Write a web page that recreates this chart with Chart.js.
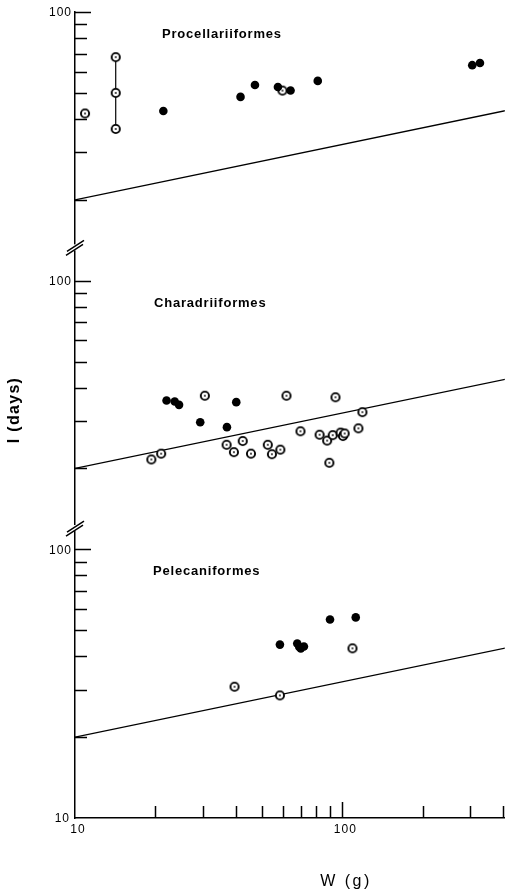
<!DOCTYPE html>
<html>
<head>
<meta charset="utf-8">
<script src="https://cdn.jsdelivr.net/npm/chart.js@4.4.1/dist/chart.umd.min.js"></script>
<style>
  html, body { margin: 0; padding: 0; background: #fff; }
  canvas { display: block; }
</style>
</head>
<body>
<canvas id="chart" width="511" height="893"></canvas>
<script>
// W (g) and I (days), one group per order
const procFilledW = [21.4, 41.6, 47.1, 57.4, 64.0, 80.9, 306, 327];
const procFilledI = [42.8, 48.3, 53.5, 52.6, 51.0, 55.4, 63.4, 64.6];
const procOpenW = [10.9, 59.7];
const procOpenI = [41.9, 51.0];
const procRangeW = [14.2, 14.2, 14.2];
const procRangeI = [67.9, 50.0, 36.7];

const charFilledW = [22.0, 23.6, 24.5, 29.4, 37.0, 40.1];
const charFilledI = [35.8, 35.5, 34.5, 29.7, 28.5, 35.3];
const charOpenW = [19.3, 21.0, 30.6, 36.9, 39.3, 42.4, 45.5, 52.6, 54.5, 58.6, 61.8, 69.7, 82.2, 87.7, 89.4, 92.0, 94.2, 98.5, 100.5, 102, 114.8, 118.8];
const charOpenI = [21.6, 22.7, 37.3, 24.5, 23.0, 25.3, 22.7, 24.5, 22.6, 23.5, 37.3, 27.5, 26.7, 25.4, 21.0, 26.6, 36.8, 27.2, 26.4, 27.0, 28.2, 32.4];

const peleFilledW = [58.4, 67.8, 69.0, 69.9, 71.8, 89.9, 112.2];
const peleFilledI = [44.2, 44.6, 43.3, 42.8, 43.5, 54.8, 55.8];
const peleOpenW = [39.5, 58.4, 109.1];
const peleOpenI = [30.8, 28.6, 42.8];

// reference line, same in each panel
const lineW = [10, 420];
const lineI = [20, 43.2];

const panelNames = ["Procellariiformes", "Charadriiformes", "Pelecaniformes"];
// each panel is one decade of a single log axis
const panelShift = [100, 10, 1];

const xTicks = [20, 30, 40, 50, 60, 70, 80, 90, 100, 200, 300, 400];

function pts(ws, is, shift) {
  return ws.map((w, i) => ({ x: w, y: is[i] * shift }));
}

function ring() {
  const c = document.createElement("canvas");
  c.width = c.height = 12;
  const g = c.getContext("2d");
  g.beginPath();
  g.arc(6, 6, 4.1, 0, 2 * Math.PI);
  g.fillStyle = "#fff";
  g.fill();
  g.lineWidth = 1.9;
  g.strokeStyle = "#000";
  g.stroke();
  g.beginPath();
  g.arc(6, 6, 0.9, 0, 2 * Math.PI);
  g.fillStyle = "#000";
  g.fill();
  return c;
}
const openMark = ring();

function filled(data) {
  return { data, pointStyle: "circle", pointRadius: 4.3, pointHoverRadius: 4.3,
    backgroundColor: "#000", borderColor: "#000", borderWidth: 0, showLine: false, order: 1 };
}
function open(data, joined) {
  return { data, pointStyle: openMark, pointRadius: 5, showLine: !!joined,
    borderColor: "#000", borderWidth: 1.2, order: 1 };
}
function refLine(shift) {
  return { data: pts(lineW, lineI, shift), showLine: true, pointRadius: 0,
    borderColor: "#000", borderWidth: 1.3, order: 3 };
}

const datasets = [
  filled(pts(procFilledW, procFilledI, panelShift[0])),
  open(pts(procOpenW, procOpenI, panelShift[0])),
  open(pts(procRangeW, procRangeI, panelShift[0]), true),
  filled(pts(charFilledW, charFilledI, panelShift[1])),
  open(pts(charOpenW, charOpenI, panelShift[1])),
  filled(pts(peleFilledW, peleFilledI, panelShift[2])),
  open(pts(peleOpenW, peleOpenI, panelShift[2])),
  refLine(panelShift[0]),
  refLine(panelShift[1]),
  refLine(panelShift[2])
];

const decor = {
  id: "decor",
  afterDraw(chart) {
    const ctx = chart.ctx;
    const xs = chart.scales.x, ys = chart.scales.y;
    const left = chart.chartArea.left, bottom = chart.chartArea.bottom;
    ctx.save();
    ctx.strokeStyle = "#000";
    ctx.fillStyle = "#000";
    ctx.lineWidth = 1.5;

    // y ticks, pointing inward
    ctx.beginPath();
    for (let k = 1; k <= 3; k++) {
      const base = Math.pow(10, k);
      for (let m = 2; m <= 9; m++) {
        const y = Math.round(ys.getPixelForValue(m * base)) + 0.5;
        ctx.moveTo(left, y); ctx.lineTo(left + 12, y);
      }
      const yt = Math.round(ys.getPixelForValue(base * 10)) + 0.5;
      ctx.moveTo(left, yt); ctx.lineTo(left + 16, yt);
    }
    // x ticks
    xTicks.forEach(v => {
      const x = Math.round(xs.getPixelForValue(v)) + 0.5;
      ctx.moveTo(x, bottom); ctx.lineTo(x, bottom - (v === 100 ? 16 : 12));
    });
    ctx.stroke();

    // axis breaks
    [120, 1330].forEach(v => {
      const y = ys.getPixelForValue(v);
      ctx.fillStyle = "#fff";
      ctx.fillRect(left - 3, y - 3, 6, 6);
      ctx.beginPath();
      ctx.moveTo(left - 8, y + 4); ctx.lineTo(left + 9, y - 7);
      ctx.moveTo(left - 9, y + 8); ctx.lineTo(left + 8, y - 3);
      ctx.stroke();
    });

    ctx.fillStyle = "#000";
    ctx.font = "12px 'Liberation Sans', Arial, sans-serif";
    ctx.letterSpacing = "1px";
    ctx.textAlign = "right";
    ctx.textBaseline = "middle";
    [100, 1000, 10000].forEach(v => ctx.fillText("100", left - 3, ys.getPixelForValue(v) + 1));
    ctx.fillText("10", left - 5, ys.getPixelForValue(10) + 1);
    ctx.textAlign = "center";
    ctx.textBaseline = "top";
    ctx.fillText("10", xs.getPixelForValue(10) + 3, bottom + 6);
    ctx.fillText("100", xs.getPixelForValue(100) + 3, bottom + 6);

    // panel names
    ctx.font = "bold 13px 'Liberation Sans', Arial, sans-serif";
    ctx.letterSpacing = "0.8px";
    ctx.textAlign = "left";
    ctx.textBaseline = "middle";
    const nameX = [162, 154, 153];
    const nameV = [8280, 821, 82.8];
    panelNames.forEach((n, i) => ctx.fillText(n, nameX[i], ys.getPixelForValue(nameV[i])));

    // axis titles
    ctx.font = "16px 'Liberation Sans', Arial, sans-serif";
    ctx.letterSpacing = "2.5px";
    ctx.textAlign = "center";
    ctx.fillText("W (g)", 346, 882);
    ctx.translate(15, 410);
    ctx.rotate(-Math.PI / 2);
    ctx.font = "bold 16px 'Liberation Sans', Arial, sans-serif";
    ctx.letterSpacing = "1.3px";
    ctx.fillText("I (days)", 0, 0);
    ctx.restore();
  }
};

new Chart(document.getElementById("chart"), {
  type: "scatter",
  data: { datasets },
  options: {
    responsive: false,
    animation: false,
    devicePixelRatio: 1,
    layout: { padding: { left: 75, right: 6, top: 12, bottom: 75 } },
    plugins: { legend: { display: false }, tooltip: { enabled: false } },
    scales: {
      x: {
        type: "logarithmic", min: 10, max: 405,
        ticks: { display: false },
        grid: { display: false, drawTicks: false },
        border: { color: "#000", width: 1.5 },
        afterFit(s) { s.height = 0; }
      },
      y: {
        type: "logarithmic", min: 10, max: 10000,
        ticks: { display: false },
        grid: { display: false, drawTicks: false },
        border: { color: "#000", width: 1.5 },
        afterFit(s) { s.width = 0; }
      }
    }
  },
  plugins: [decor]
});
</script>
</body>
</html>
